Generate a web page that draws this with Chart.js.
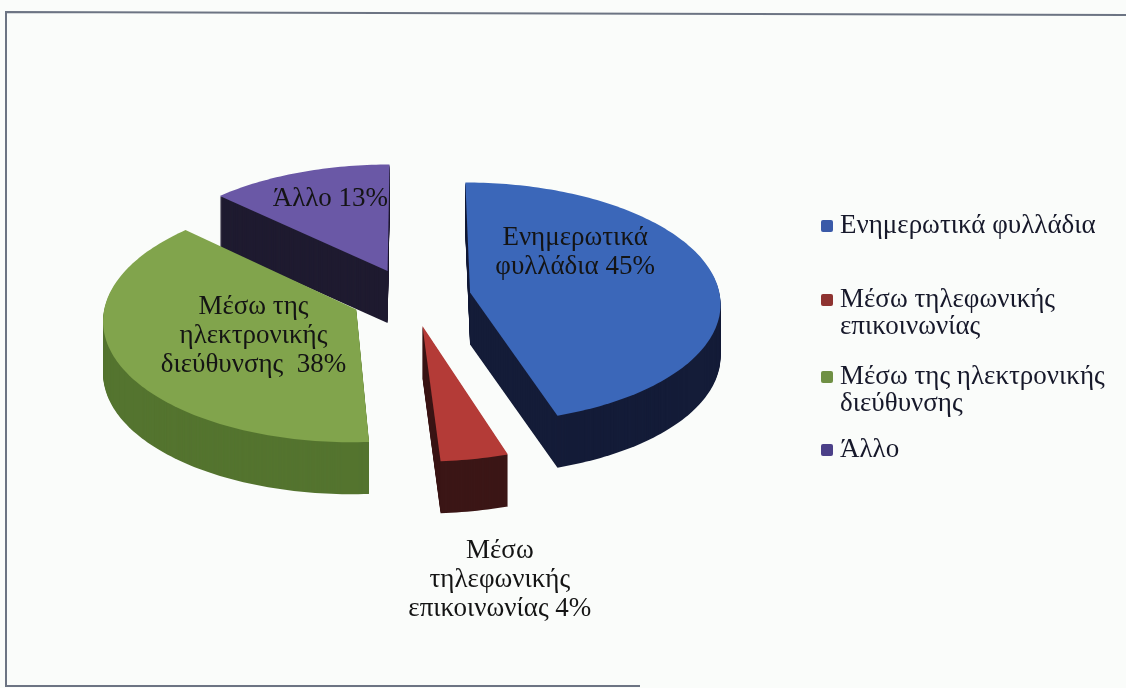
<!DOCTYPE html>
<html>
<head>
<meta charset="utf-8">
<script src="https://cdn.jsdelivr.net/npm/chart.js@4.4.1/dist/chart.umd.min.js"></script>
<style>
  html, body { margin: 0; padding: 0; background: #fafcfa; }
  #pieChart { display: block; }
</style>
</head>
<body>
<canvas id="pieChart" width="1126" height="688"></canvas>
<script>
// Τρόποι ενημέρωσης (%)
const categories = ["Ενημερωτικά φυλλάδια", "Μέσω τηλεφωνικής επικοινωνίας", "Μέσω της ηλεκτρονικής διεύθυνσης", "Άλλο"];
const shares = [45, 4, 38, 13];
// πώς σπάνε οι ετικέτες σε γραμμές
const sliceLabelLines = [["Ενημερωτικά", "φυλλάδια"], ["Μέσω", "τηλεφωνικής", "επικοινωνίας"], ["Μέσω της", "ηλεκτρονικής", "διεύθυνσης "], ["Άλλο"]];
const legendLines = [["Ενημερωτικά φυλλάδια"], ["Μέσω τηλεφωνικής", "επικοινωνίας"], ["Μέσω της ηλεκτρονικής", "διεύθυνσης"], ["Άλλο"]];

const topColors = ["#3b67b9", "#b43b37", "#81a44c", "#6a58a6"];
const sideColors = ["#141c38", "#3b1616", "#54742f", "#1f1b30"];
const legendColors = ["#3a5aa8", "#8e3330", "#6f9044", "#4b4088"];
const FONT = '"Liberation Serif", "Times New Roman", serif';

// ψευδο-3Δ πίτα: κάθε κομμάτι παίρνει τις γωνίες του από το Chart.js
function makeProjector(arc, o) {
  const a = arc.outerRadius;
  return (X, Y) => {
    const yn = Y / a;
    return {
      x: arc.x + X * (1 + o.perspX * yn),
      y: arc.y + a * (o.tilt * yn + o.persp * yn * yn)
    };
  };
}

const pie3d = {
  id: "pie3d",
  beforeDatasetsDraw(chart, args, o) {
    const ctx = chart.ctx;
    const arcs = chart.getDatasetMeta(0).data;
    const slices = arcs.map((arc, i) => {
      const a = arc.outerRadius;
      const mid = (arc.startAngle + arc.endAngle) / 2;
      const ox = o.explode * a * Math.cos(mid), oy = o.explode * a * Math.sin(mid);
      const proj = makeProjector(arc, o);
      const pts = [proj(ox, oy)];
      const n = Math.max(4, Math.ceil((arc.endAngle - arc.startAngle) / 0.02));
      for (let k = 0; k <= n; k++) {
        const t = arc.startAngle + (arc.endAngle - arc.startAngle) * k / n;
        pts.push(proj(ox + a * Math.cos(t), oy + a * Math.sin(t)));
      }
      return { i, pts, cy: pts[0].y };
    });
    const trace = (pts, dy) => {
      ctx.beginPath();
      pts.forEach((p, k) => k ? ctx.lineTo(p.x, p.y + dy) : ctx.moveTo(p.x, p.y + dy));
      ctx.closePath();
    };
    ctx.save();
    slices.slice().sort((p, q) => p.cy - q.cy).forEach(s => {
      ctx.fillStyle = sideColors[s.i];
      for (let d = o.depth; d >= 1; d--) { trace(s.pts, d); ctx.fill(); }
      ctx.fillStyle = topColors[s.i];
      trace(s.pts, 0); ctx.fill();
    });
    ctx.restore();
    return false;
  },
  afterDraw(chart, args, o) {
    const ctx = chart.ctx;
    const arcs = chart.getDatasetMeta(0).data;
    const total = shares.reduce((s, v) => s + v, 0);
    ctx.save();
    ctx.fillStyle = "#141414";
    ctx.textAlign = "center";
    ctx.textBaseline = "middle";
    ctx.font = "27px " + FONT;
    arcs.forEach((arc, i) => {
      const a = arc.outerRadius;
      const mid = (arc.startAngle + arc.endAngle) / 2;
      const pl = o.labels[i];
      const t = arc.startAngle + (arc.endAngle - arc.startAngle) * pl.f;
      const X = o.explode * a * Math.cos(mid) + pl.r * a * Math.cos(t);
      const Y = o.explode * a * Math.sin(mid) + pl.r * a * Math.sin(t);
      const p = makeProjector(arc, o)(X, Y);
      const py = p.y + (pl.r > 1 ? o.depth : 0);
      const lines = sliceLabelLines[i].slice();
      const pct = Math.round(shares[i] / total * 100) + "%";
      lines[lines.length - 1] += " " + pct;
      const lh = 29;
      lines.forEach((ln, k) => ctx.fillText(ln, p.x, py + (k - (lines.length - 1) / 2) * lh));
    });

    // υπόμνημα
    ctx.textAlign = "left";
    ctx.fillStyle = "#16182a";
    legendLines.forEach((lines, i) => {
      const y0 = o.legendRows[i];
      ctx.save();
      ctx.fillStyle = legendColors[i];
      ctx.beginPath();
      ctx.roundRect(821, y0 - 6, 12, 12, 2);
      ctx.fill();
      ctx.restore();
      lines.forEach((ln, k) => ctx.fillText(ln, 840, y0 + k * 27));
    });

    // πλαίσιο
    ctx.strokeStyle = "#6c7483";
    ctx.lineWidth = 2;
    ctx.beginPath();
    ctx.moveTo(1126, 15); ctx.lineTo(6, 12); ctx.lineTo(6, 686); ctx.lineTo(640, 686);
    ctx.stroke();
    ctx.restore();
  }
};

new Chart(document.getElementById("pieChart"), {
  type: "pie",
  data: {
    labels: categories,
    datasets: [{ data: shares, backgroundColor: topColors, borderWidth: 0 }]
  },
  options: {
    responsive: false,
    animation: false,
    layout: { padding: { left: 161, right: 465, top: 47, bottom: 141 } },
    plugins: {
      legend: { display: false },
      tooltip: { enabled: false },
      pie3d: {
        explode: 0.24, tilt: 0.483, persp: 0.04, perspX: 0.08, depth: 52,
        labels: [{ f: 0.32, r: 0.56 }, { f: 0.52, r: 1.47 }, { f: 0.48, r: 0.45 }, { f: 0.55, r: 0.7 }],
        legendRows: [226, 300, 377, 450]
      }
    }
  },
  plugins: [pie3d]
});
</script>
</body>
</html>
